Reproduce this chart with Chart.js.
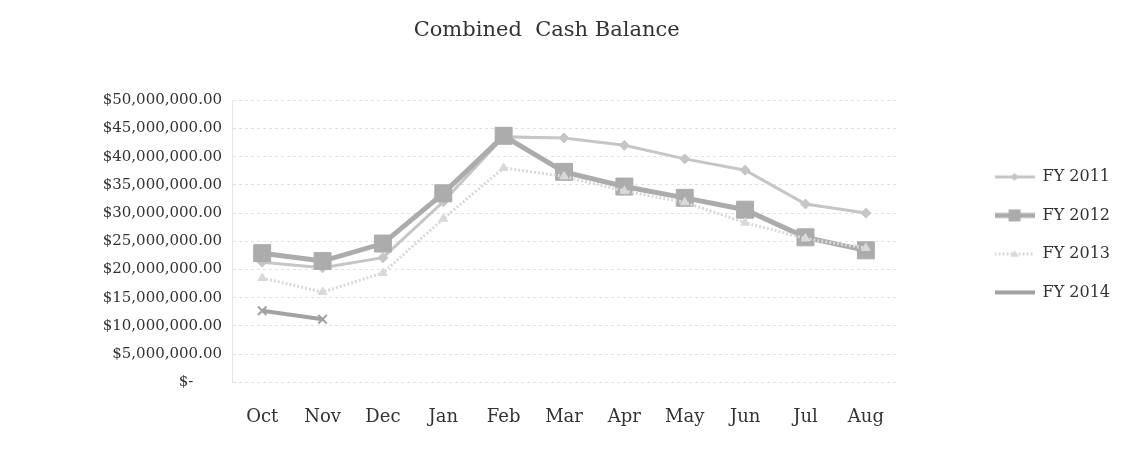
<!DOCTYPE html>
<html>
<head>
<meta charset="utf-8">
<script src="https://cdn.jsdelivr.net/npm/chart.js@4/dist/chart.umd.min.js"></script>
<style>
  html, body { margin: 0; padding: 0; background: #fff; }
  #wrap { width: 1132px; height: 466px; position: relative; }
</style>
</head>
<body>
<div id="wrap"><canvas id="myChart"></canvas></div>
<script>
// data
var months = ["Oct", "Nov", "Dec", "Jan", "Feb", "Mar", "Apr", "May", "Jun", "Jul", "Aug"];
var fy2011 = [21300000, 20300000, 22100000, 32000000, 43500000, 43300000, 42000000, 39600000, 37600000, 31600000, 30000000];
var fy2012 = [22900000, 21500000, 24600000, 33500000, 43700000, 37300000, 34700000, 32700000, 30600000, 25700000, 23400000];
var fy2013 = [18500000, 16000000, 19400000, 29000000, 38000000, 36500000, 33900000, 31900000, 28300000, 25500000, 23800000];
var fy2014 = [12700000, 11200000];
var yTicks = [0, 5000000, 10000000, 15000000, 20000000, 25000000, 30000000, 35000000, 40000000, 45000000, 50000000];

var serif = "'DejaVu Serif', 'Liberation Serif', serif";

// little line + marker picture for the legend
legendSample = function (color, width, dash, marker, size) {
    var c = document.createElement('canvas');
    c.width = 40; c.height = 20;
    var ctx = c.getContext('2d');
    ctx.strokeStyle = color;
    ctx.fillStyle = color;
    ctx.lineWidth = width;
    ctx.setLineDash(dash);
    ctx.beginPath();
    ctx.moveTo(0, 10); ctx.lineTo(40, 10);
    ctx.stroke();
    ctx.setLineDash([]);
    ctx.beginPath();
    if (marker == 'rect') {
        ctx.rect(20 - size, 10 - size, size * 2, size * 2);
        ctx.fill();
    } else if (marker == 'rectRot') {
        ctx.moveTo(20, 10 - size); ctx.lineTo(20 + size, 10);
        ctx.lineTo(20, 10 + size); ctx.lineTo(20 - size, 10);
        ctx.closePath(); ctx.fill();
    } else if (marker == 'triangle') {
        ctx.moveTo(20, 10 - size); ctx.lineTo(20 + size, 10 + size * 0.7);
        ctx.lineTo(20 - size, 10 + size * 0.7);
        ctx.closePath(); ctx.fill();
    }
    return c;
}

var styles = [
    {color: '#c6c6c6', width: 3, dash: [], marker: 'rectRot', r: 5, legendSize: 4},
    {color: '#acacac', width: 5, dash: [], marker: 'rect', r: 12, legendSize: 6},
    {color: '#d9d9d9', width: 3, dash: [2, 2], marker: 'triangle', r: 5, legendSize: 4},
    {color: '#a2a2a2', width: 4, dash: [], marker: 'crossRot', r: 6, legendSize: 0}
];

var series = [fy2011, fy2012, fy2013, fy2014];
var names = ["FY 2011", "FY 2012", "FY 2013", "FY 2014"];

var datasets = series.map(function (values, i) {
    var s = styles[i];
    return {
        label: names[i],
        data: values,
        borderColor: s.color,
        backgroundColor: s.color,
        borderWidth: s.width,
        borderDash: s.dash,
        pointStyle: s.marker,
        pointRadius: s.r,
        pointHoverRadius: s.r,
        pointBorderColor: s.color,
        pointBackgroundColor: s.color,
        pointBorderWidth: i == 3 ? 2 : 1,
        tension: 0,
        order: 4 - i
    };
});

var money = function (v) {
    if (v === 0) return '$-      ';
    return '$' + v.toLocaleString('en-US', {minimumFractionDigits: 2, maximumFractionDigits: 2});
}

new Chart("myChart", {
    type: "line",
    data: {
        labels: months,
        datasets: datasets
    },
    options: {
        responsive: true,
        maintainAspectRatio: false,
        animation: false,
        layout: {padding: {left: 0, right: 12, top: 0, bottom: 14}},
        plugins: {
            title: {
                display: true,
                // trailing spaces pull the centred title a bit to the left
                text: "Combined  Cash Balance    ",
                color: '#333',
                font: {family: serif, size: 21, weight: 'normal'},
                padding: {top: 18, bottom: 57}
            },
            legend: {
                position: 'right',
                align: 'start',
                fullSize: false,
                title: {display: true, text: '', font: {family: serif, size: 16}, padding: {top: 0, bottom: 27}},
                labels: {
                    color: '#333',
                    font: {family: serif, size: 16},
                    usePointStyle: true,
                    pointStyleWidth: 40,
                    boxHeight: 16,
                    padding: 22.5,
                    sort: function (a, b) { return a.datasetIndex - b.datasetIndex; },
                    generateLabels: function (chart) {
                        var items = Chart.defaults.plugins.legend.labels.generateLabels(chart);
                        items.forEach(function (item) {
                            var s = styles[item.datasetIndex];
                            item.pointStyle = legendSample(s.color, s.width, s.dash, s.marker, s.legendSize);
                        });
                        return items;
                    }
                }
            },
            tooltip: {enabled: false}
        },
        scales: {
            x: {
                offset: true,
                grid: {display: false, drawTicks: false},
                border: {display: false},
                ticks: {color: '#333', font: {family: serif, size: 18}, padding: 24, maxRotation: 0}
            },
            y: {
                min: 0,
                max: 50000000,
                afterFit: function (s) { s.width = 232; },
                afterBuildTicks: function (s) { s.ticks = yTicks.map(function (v) { return {value: v}; }); },
                grid: {color: '#e2e2e2', drawTicks: false},
                border: {display: true, color: '#e6e6e6', dash: [3, 3]},
                ticks: {color: '#333', font: {family: serif, size: 15}, padding: 10, callback: money}
            },
            gap: {
                type: 'linear',
                position: 'right',
                afterFit: function (s) { s.width = 76; },
                grid: {display: false, drawTicks: false},
                border: {display: false},
                ticks: {display: false}
            }
        }
    }
});
</script>
</body>
</html>
